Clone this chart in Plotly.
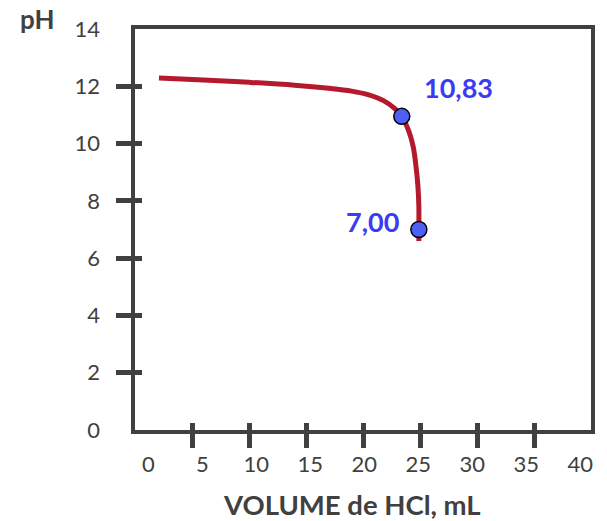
import plotly.graph_objects as go

# Data
vol = [2.1, 6.0, 10.0, 14.0, 17.0, 19.0, 20.5, 21.8, 22.8, 23.4, 24.0, 24.4, 24.65, 24.82, 24.9, 24.9, 24.9]
ph = [12.29, 12.22, 12.14, 12.04, 11.93, 11.83, 11.70, 11.50, 11.22, 10.95, 10.45, 9.9, 9.2, 8.5, 7.8, 7.0, 6.6]
pt_vol = [23.4, 24.9]
pt_ph = [10.95, 7.0]
pt_labels = ["10,83", "7,00"]
x_tick_labels = ["0", "5", "10", "15", "20", "25", "30", "35", "40"]
x_tick_vals = [0, 5, 10, 15, 20, 25, 30, 35, 40]
x_tick_marks = [5, 10, 15, 20, 25, 30, 35]
y_tick_vals = [0, 2, 4, 6, 8, 10, 12, 14]
y_tick_marks = [2, 4, 6, 8, 10, 12]

GREY = "#404040"
FONT = "Lato"

fig = go.Figure()
fig.add_trace(go.Scatter(x=vol, y=ph, mode="lines",
                         line=dict(color="#B5192E", width=5, shape="spline", smoothing=1.0),
                         hoverinfo="skip", showlegend=False))
fig.add_trace(go.Scatter(x=pt_vol, y=pt_ph, mode="markers",
                         marker=dict(size=16, color="#4D5FF5", line=dict(color="black", width=1.5)),
                         showlegend=False))

# point labels
fig.add_annotation(x=pt_vol[0], y=pt_ph[0], text=f"<b>{pt_labels[0]}</b>", showarrow=False,
                   xanchor="left", yanchor="middle", xshift=20, yshift=29,
                   font=dict(family=FONT, size=27, color="#3B3BF5"))
fig.add_annotation(x=pt_vol[1], y=pt_ph[1], text=f"<b>{pt_labels[1]}</b>", showarrow=False,
                   xanchor="right", yanchor="middle", xshift=-18, yshift=8,
                   font=dict(family=FONT, size=27, color="#3B3BF5"))

# titles
fig.add_annotation(xref="paper", yref="paper", x=0.475, y=-0.185, text="<b>VOLUME de HCl, mL</b>",
                   showarrow=False, xanchor="center", yanchor="middle",
                   font=dict(family=FONT, size=27.5, color=GREY))
fig.add_annotation(xref="paper", yref="paper", x=-0.215, y=1.025, text="<b>pH</b>",
                   showarrow=False, xanchor="center", yanchor="middle",
                   font=dict(family=FONT, size=26, color=GREY))

RX = [0, 40]
RY = [0, 14]
common = dict(showgrid=False, zeroline=False)

fig.update_layout(
    width=607, height=521,
    margin=dict(l=135, r=16, t=29, b=91),
    paper_bgcolor="white", plot_bgcolor="white",
    font=dict(family=FONT, size=22, color=GREY),
    xaxis=dict(range=RX, tickvals=x_tick_marks, showticklabels=False, ticks="outside",
               ticklen=14, tickwidth=5, tickcolor=GREY, showline=True, linewidth=4,
               linecolor=GREY, mirror=True, **common),
    xaxis2=dict(range=[-1.24, 41.0], overlaying="x", anchor="y", side="bottom",
                tickvals=x_tick_vals, ticktext=x_tick_labels, ticks="", showline=False,
                ticklabelstandoff=19, tickfont=dict(family=FONT, size=22, color=GREY), **common),
    xaxis3=dict(range=RX, overlaying="x", anchor="y", side="bottom", tickvals=x_tick_marks,
                showticklabels=False, ticks="inside", ticklen=7, tickwidth=5, tickcolor=GREY,
                showline=False, **common),
    yaxis=dict(range=RY, tickvals=y_tick_marks, showticklabels=False, ticks="outside",
               ticklen=15, tickwidth=5, tickcolor=GREY, showline=True, linewidth=4,
               linecolor=GREY, mirror=True, **common),
    yaxis2=dict(range=RY, overlaying="y", anchor="x", side="left", tickvals=y_tick_vals,
                ticks="", showline=False, ticklabelstandoff=34,
                tickfont=dict(family=FONT, size=22, color=GREY), **common),
    yaxis3=dict(range=RY, overlaying="y", anchor="x", side="left", tickvals=y_tick_marks,
                showticklabels=False, ticks="inside", ticklen=7, tickwidth=5, tickcolor=GREY,
                showline=False, **common),
)
# dummy traces to activate overlay axes
fig.add_trace(go.Scatter(x=[None], y=[None], xaxis="x2", yaxis="y2", showlegend=False, hoverinfo="skip"))
fig.add_trace(go.Scatter(x=[None], y=[None], xaxis="x3", yaxis="y3", showlegend=False, hoverinfo="skip"))

fig.write_html("out.html")
